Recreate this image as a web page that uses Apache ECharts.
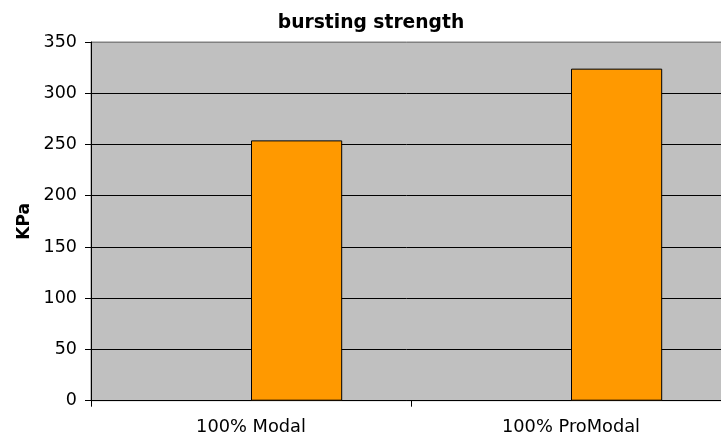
<!DOCTYPE html>
<html>
<head>
<meta charset="utf-8">
<script src="https://cdn.jsdelivr.net/npm/echarts@6/dist/echarts.min.js"></script>
<style>html,body{margin:0;padding:0;background:#fff;}#c{width:721px;height:439px;}</style>
</head>
<body>
<div id="c"></div>
<script>
const categories = ['100% Modal', '100% ProModal'];
const emptySeries = [null, null];
const strength = [254, 324];
const yTicks = { min: 0, max: 350, interval: 50 };

const chart = echarts.init(document.getElementById('c'), null, { renderer: 'canvas' });
const font = 'DejaVu Sans';
chart.setOption({
  animation: false,
  backgroundColor: '#ffffff',
  title: {
    text: 'bursting strength',
    left: 366,
    top: 9,
    textAlign: 'center',
    textStyle: { fontFamily: font, fontWeight: 'bold', fontSize: 18.7, color: '#000' }
  },
  grid: {
    left: 91, width: 640, top: 42, height: 358.7,
    outerBoundsMode: 'none', containLabel: false,
    show: true, backgroundColor: '#C0C0C0', borderColor: '#808080', borderWidth: 1
  },
  xAxis: {
    type: 'category',
    data: categories,
    axisLine: { lineStyle: { color: '#000', width: 1 } },
    axisTick: { show: true, length: 6, lineStyle: { color: '#000' } },
    axisLabel: { margin: 18, fontFamily: font, fontSize: 17.8, color: '#000' },
    splitLine: { show: false }
  },
  yAxis: {
    type: 'value',
    min: yTicks.min, max: yTicks.max, interval: yTicks.interval,
    name: 'KPa',
    nameLocation: 'middle',
    nameGap: 58,
    nameTextStyle: { fontFamily: font, fontWeight: 'bold', fontSize: 17, color: '#000' },
    axisLine: { show: true, lineStyle: { color: '#000', width: 1 } },
    axisTick: { show: true, length: 6, lineStyle: { color: '#000' } },
    axisLabel: { margin: 14, fontFamily: font, fontSize: 17.5, color: '#000' },
    splitLine: { show: true, lineStyle: { color: ['#000','#000','#000','#000','#000','#000','#000','#808080'], width: 1 } }
  },
  series: [
    { type: 'bar', data: emptySeries, barGap: '0%', barCategoryGap: '43%',
      itemStyle: { color: '#9999FF', borderColor: '#000', borderWidth: 1 } },
    { type: 'bar', data: strength, barGap: '0%', barCategoryGap: '43%',
      itemStyle: { color: '#FF9900', borderColor: '#000', borderWidth: 1 } }
  ]
});
</script>
</body>
</html>
